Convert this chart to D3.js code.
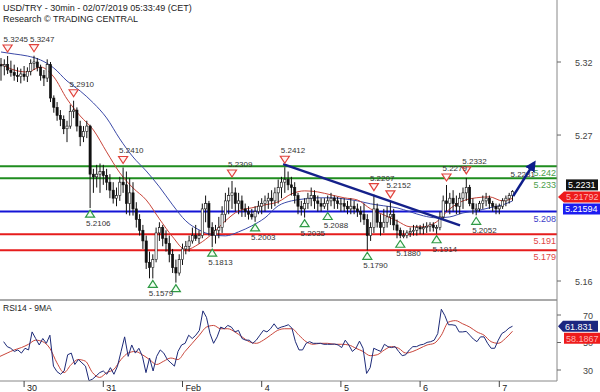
<!DOCTYPE html>
<html>
<head>
<meta charset="utf-8">
<script src="https://cdnjs.cloudflare.com/ajax/libs/d3/7.8.5/d3.min.js"></script>
<style>
  body { margin: 0; background: #fff; }
  svg { display: block; font-family: "Liberation Sans", Arial, sans-serif; }
</style>
</head>
<body>
<svg id="chart" width="600" height="392"></svg>
<script>
'use strict';

// hourly bars, USD/TRY
const FIRST_OPEN = 5.318;
const HI = [5.323,5.322,5.3245,5.321,5.318,5.316,5.315,5.317,5.316,5.322,5.3247,5.323,5.318,5.314,5.322,5.320,
  5.295,5.290,5.284,5.280,5.276,5.288,5.291,5.286,5.276,5.272,5.276,5.273,5.240,5.243,5.244,5.243,
  5.240,5.236,5.230,5.226,5.234,5.241,5.238,5.233,5.230,5.215,5.206,5.198,5.190,5.178,5.176,5.196,
  5.200,5.198,5.194,5.190,5.180,5.172,5.176,5.184,5.186,5.190,5.196,5.198,5.194,5.214,5.220,5.216,
  5.200,5.198,5.204,5.212,5.222,5.226,5.2309,5.226,5.222,5.220,5.214,5.212,5.210,5.212,5.216,5.218,
  5.220,5.222,5.224,5.226,5.232,5.234,5.2412,5.238,5.234,5.230,5.222,5.216,5.218,5.222,5.226,5.224,
  5.220,5.218,5.218,5.220,5.222,5.220,5.219,5.218,5.218,5.216,5.218,5.216,5.214,5.212,5.214,5.206,
  5.200,5.2207,5.214,5.206,5.210,5.212,5.2152,5.210,5.202,5.196,5.194,5.194,5.196,5.198,5.198,5.198,
  5.199,5.200,5.200,5.200,5.198,5.208,5.220,5.2279,5.222,5.224,5.220,5.222,5.226,5.2332,5.228,5.218,
  5.214,5.216,5.220,5.222,5.220,5.216,5.214,5.214,5.218,5.220,5.222,5.224];
const LO = [5.306,5.310,5.311,5.309,5.306,5.305,5.304,5.306,5.305,5.310,5.314,5.313,5.306,5.302,5.305,5.290,
  5.282,5.276,5.272,5.266,5.260,5.270,5.278,5.268,5.257,5.260,5.263,5.2106,5.222,5.226,5.222,5.228,
  5.224,5.218,5.214,5.212,5.216,5.222,5.206,5.205,5.205,5.196,5.190,5.180,5.165,5.158,5.1579,5.170,
  5.186,5.182,5.178,5.170,5.162,5.1548,5.160,5.168,5.176,5.178,5.184,5.186,5.184,5.188,5.200,5.190,
  5.1813,5.184,5.188,5.192,5.200,5.206,5.210,5.208,5.206,5.204,5.204,5.202,5.202,5.2003,5.206,5.206,
  5.208,5.210,5.210,5.212,5.214,5.218,5.222,5.224,5.220,5.214,5.206,5.205,5.2035,5.210,5.212,5.210,
  5.208,5.208,5.210,5.2088,5.212,5.210,5.210,5.208,5.208,5.206,5.206,5.206,5.204,5.200,5.198,5.1790,
  5.186,5.192,5.196,5.190,5.192,5.196,5.198,5.194,5.188,5.1880,5.188,5.188,5.189,5.190,5.190,5.191,
  5.191,5.192,5.193,5.193,5.1914,5.194,5.202,5.208,5.206,5.208,5.206,5.206,5.210,5.216,5.212,5.206,
  5.2052,5.208,5.210,5.212,5.210,5.208,5.206,5.206,5.210,5.212,5.214,5.216];
const CL = [5.317,5.318,5.314,5.312,5.310,5.309,5.311,5.309,5.313,5.319,5.320,5.316,5.310,5.308,5.318,5.293,
  5.286,5.280,5.277,5.270,5.272,5.283,5.284,5.272,5.264,5.268,5.272,5.236,5.234,5.236,5.238,5.235,
  5.230,5.224,5.218,5.220,5.230,5.228,5.214,5.222,5.210,5.202,5.194,5.186,5.170,5.166,5.172,5.192,
  5.196,5.188,5.184,5.176,5.166,5.162,5.172,5.180,5.182,5.186,5.190,5.188,5.190,5.210,5.214,5.196,
  5.190,5.194,5.196,5.206,5.216,5.220,5.222,5.214,5.216,5.210,5.208,5.206,5.204,5.208,5.212,5.214,
  5.216,5.218,5.216,5.222,5.226,5.230,5.232,5.228,5.226,5.220,5.212,5.210,5.214,5.218,5.220,5.216,
  5.214,5.212,5.214,5.216,5.218,5.216,5.214,5.214,5.212,5.210,5.212,5.210,5.208,5.206,5.202,5.190,
  5.196,5.210,5.200,5.196,5.200,5.204,5.206,5.198,5.194,5.190,5.190,5.192,5.193,5.194,5.196,5.195,
  5.196,5.197,5.198,5.196,5.196,5.204,5.216,5.214,5.218,5.214,5.212,5.218,5.222,5.226,5.214,5.210,
  5.210,5.214,5.216,5.218,5.214,5.212,5.210,5.212,5.216,5.218,5.220,5.2231];

// moving averages, sampled every 4 bars (last point = last bar)
const MA_FAST = [5.3185,5.3140,5.3125,5.3162,5.3088,5.2923,5.2796,5.2691,5.2527,5.2370,5.2257,5.2167,5.2025,5.1891,
  5.1794,5.1838,5.1913,5.2010,5.2085,5.2108,5.2130,5.2153,5.2212,5.2235,5.2227,5.2205,5.2183,5.2167,
  5.2100,5.2055,5.2010,5.1966,5.1966,5.2003,5.2100,5.2160,5.2183,5.2190,5.2160,5.21792];
const MA_SLOW = [5.3275,5.3260,5.3245,5.3215,5.3155,5.3058,5.2983,5.2893,5.2781,5.2624,5.2489,5.2384,5.2265,5.2130,
  5.2010,5.1943,5.1906,5.1898,5.1928,5.1973,5.2033,5.2123,5.2160,5.2175,5.2183,5.2183,5.2175,5.2160,
  5.2138,5.2123,5.2108,5.2078,5.2048,5.2033,5.2040,5.2070,5.2085,5.2108,5.2130,5.21594];

const RSI14 = [50.6,47.0,45.8,43.5,44.6,42.3,45.8,44.6,57.7,52.9,48.2,52.9,49.4,55.3,32.8,28.8,26.9,29.3,41.1,42.3,
  34.0,37.6,35.2,32.8,22.2,23.4,25.7,28.1,29.3,26.9,31.7,26.9,32.8,43.5,54.1,39.9,48.2,42.3,45.8,39.9,
  28.1,38.7,29.3,39.9,44.6,42.3,37.6,35.2,32.8,43.5,48.2,49.4,55.3,52.9,55.3,58.8,73.0,68.3,56.5,49.4,
  54.1,61.2,60.0,62.4,61.2,57.7,58.8,52.9,51.7,51.7,49.4,51.7,55.3,58.8,57.7,60.0,63.6,60.0,61.2,61.9,
  62.9,60.5,50.6,44.6,44.6,49.4,50.6,49.4,49.4,49.4,48.7,48.7,48.7,48.9,48.2,46.3,51.7,48.2,43.5,45.8,
  51.0,45.8,27.5,31.7,45.8,44.6,43.5,48.7,47.0,46.3,47.0,43.5,40.4,41.1,44.6,47.0,47.0,48.2,48.7,50.1,
  50.6,51.7,56.5,74.2,69.5,62.9,62.9,62.4,57.7,57.7,58.1,55.3,52.5,50.6,54.1,54.1,49.4,45.8,45.8,51.7,
  56.5,58.1,60.5,61.831];
const RSI_MA = [39.9,42.3,44.6,46.3,48.7,51.7,50.6,45.8,35.2,28.1,34.0,37.6,36.4,28.1,24.6,28.1,30.5,37.6,42.3,43.5,
  41.1,37.6,34.0,36.4,38.7,37.6,43.5,49.4,55.3,61.2,62.4,60.0,60.0,57.7,54.1,50.6,49.4,51.7,55.3,58.8,
  60.0,60.0,55.3,50.6,48.7,49.4,49.4,48.7,48.7,48.2,45.8,43.5,40.4,41.1,44.6,47.0,45.8,42.3,43.5,45.8,
  48.2,49.4,55.3,64.8,65.9,63.6,61.2,57.7,55.3,50.6,49.4,52.9,58.1867];

const LEVELS = [5.242, 5.233, 5.208, 5.191, 5.179];
const LEVEL_KIND = ['res', 'res', 'pivot', 'sup', 'sup'];

const HIGH_BARS = [2, 10, 22, 37, 70, 86, 113, 118, 135, 141];
const HIGH_VALS = [5.3245, 5.3247, 5.2910, 5.2410, 5.2309, 5.2412, 5.2207, 5.2152, 5.2279, 5.2332];
const LOW_BARS = [27, 46, 53, 64, 77, 92, 99, 111, 121, 132, 144];
const LOW_VALS = [5.2106, 5.1579, 5.1548, 5.1813, 5.2003, 5.2035, 5.2088, 5.1790, 5.1880, 5.1914, 5.2052];

const TREND = [[85.5, 5.2435], [139.1, 5.1977]];
const TARGET = [[155.2, 5.2195], [161.5, 5.2442]];

const DAY_BARS = [7, 31, 55, 79, 103, 127, 151];
const DAY_LABELS = ['30', '31', 'Feb', '4', '5', '6', '7'];
const PRICE_TICKS = [5.320, 5.2653, 5.156];
const RSI_TICKS = [70, 50, 30];

const PLOT_R = 557;
const MAIN_BOT = 300;
const RSI_BOT = 381;

let svg = d3.select('#chart');
let last = CL.length - 1;

let x = d3.scaleLinear().domain([0, 155]).range([1, 512.5]);
let y = d3.scaleLinear().domain([5.156, 5.320]).range([281, 62]);
let yR = d3.scaleLinear().domain([30, 70]).range([370, 315]);
let rsiX = d3.scaleLinear().domain([0, RSI14.length - 1]).range([x(0.8), x(155)]);
let rsiMaX = d3.scaleLinear().domain([0, RSI_MA.length - 1]).range([x(-0.3), x(155)]);
let maBars = d3.range(0, 153, 4).concat([last]);

let fmt4 = d3.format('.4f');
let levelColor = { res: '#1f8d1f', pivot: '#1414d6', sup: '#e61c1c' };
let levelText = { res: '#4b9e4b', pivot: '#3d3dc8', sup: '#e04646' };

let defs = svg.append('defs');
defs.append('clipPath').attr('id', 'clipMain')
  .append('rect').attr('x', 0).attr('y', 0).attr('width', PLOT_R).attr('height', MAIN_BOT);
defs.append('clipPath').attr('id', 'clipRsi')
  .append('rect').attr('x', 0).attr('y', MAIN_BOT).attr('width', PLOT_R).attr('height', RSI_BOT - MAIN_BOT);
defs.append('marker').attr('id', 'head')
  .attr('viewBox', '0 0 10 10').attr('refX', 7).attr('refY', 5)
  .attr('markerWidth', 11).attr('markerHeight', 11)
  .attr('markerUnits', 'userSpaceOnUse').attr('orient', 'auto')
  .append('path').attr('d', 'M0,0L10,5L0,10Z').attr('fill', '#0d1d8a');

// header
svg.append('text').attr('x', 3).attr('y', 11).attr('font-size', 9).attr('fill', '#222')
  .text('USD/TRY - 30min - 02/07/2019 05:33:49 (CET)');
svg.append('text').attr('x', 3).attr('y', 22).attr('font-size', 9).attr('fill', '#222')
  .text('Research \u00a9 TRADING CENTRAL');

let main = svg.append('g').attr('clip-path', 'url(#clipMain)');

// support / resistance
main.selectAll('.level').data(LEVELS).enter().append('line')
  .attr('x1', 0).attr('x2', PLOT_R)
  .attr('y1', d => y(d)).attr('y2', d => y(d))
  .attr('stroke', (d, i) => levelColor[LEVEL_KIND[i]])
  .attr('stroke-width', 2);
main.selectAll('.levelLabel').data(LEVELS).enter().append('text')
  .attr('x', PLOT_R - 1).attr('y', d => y(d) + 10)
  .attr('text-anchor', 'end').attr('font-size', 9)
  .attr('fill', (d, i) => levelText[LEVEL_KIND[i]])
  .text(d => d3.format('.3f')(d));

// moving averages
let maLine = d3.line()
  .x((d, i) => x(maBars[i]))
  .y(d => y(d))
  .curve(d3.curveMonotoneX);
main.append('path').datum(MA_SLOW).attr('d', maLine)
  .attr('fill', 'none').attr('stroke', '#3c4aa8').attr('stroke-width', 1);
main.append('path').datum(MA_FAST).attr('d', maLine)
  .attr('fill', 'none').attr('stroke', '#c9453a').attr('stroke-width', 1);

// candles
let bars = CL.map(function(c, i) {
  return { i: i, o: i ? CL[i - 1] : FIRST_OPEN, h: HI[i], l: LO[i], c: c };
});
let candle = main.selectAll('.bar').data(bars).enter().append('g');
candle.append('line')
  .attr('x1', d => x(d.i)).attr('x2', d => x(d.i))
  .attr('y1', d => y(d.h)).attr('y2', d => y(d.l))
  .attr('stroke', '#111').attr('stroke-width', 1);
candle.append('rect')
  .attr('x', d => x(d.i) - 1.1).attr('width', 2.2)
  .attr('y', d => y(Math.max(d.o, d.c)))
  .attr('height', d => Math.max(1, Math.abs(y(d.o) - y(d.c))))
  .attr('fill', d => d.c >= d.o ? '#fff' : '#111')
  .attr('stroke', '#111').attr('stroke-width', 0.6);

// trend line
main.append('line')
  .attr('x1', x(TREND[0][0])).attr('y1', y(TREND[0][1]))
  .attr('x2', x(TREND[1][0])).attr('y2', y(TREND[1][1]))
  .attr('stroke', '#15218a').attr('stroke-width', 2.5);

// swing highs / lows
let highs = HIGH_BARS.map((b, i) => ({ b: b, v: HIGH_VALS[i] }));
let lows = LOW_BARS.map((b, i) => ({ b: b, v: LOW_VALS[i] }));
main.selectAll('.hi').data(highs).enter().append('path')
  .attr('d', 'M-4.5,0L4.5,0L0,7Z')
  .attr('transform', d => 'translate(' + x(d.b) + ',' + (y(d.v) - 11) + ')')
  .attr('fill', '#fff3f3').attr('stroke', '#e0403a').attr('stroke-width', 1.2);
main.selectAll('.hiLabel').data(highs).enter().append('text')
  .attr('x', d => x(d.b) - 4).attr('y', d => y(d.v) - 14)
  .attr('font-size', 8).attr('fill', '#333')
  .text(d => fmt4(d.v));
main.selectAll('.lo').data(lows).enter().append('path')
  .attr('d', 'M-4.5,7L4.5,7L0,0Z')
  .attr('transform', d => 'translate(' + x(d.b) + ',' + (y(d.v) + 2) + ')')
  .attr('fill', '#f3fff3').attr('stroke', '#2f9a45').attr('stroke-width', 1.2);
// a low label that would run under the RSI pane is not shown
main.selectAll('.loLabel').data(lows.filter(d => y(d.v) + 18 < MAIN_BOT)).enter().append('text')
  .attr('x', d => x(d.b) - 4).attr('y', d => y(d.v) + 18)
  .attr('font-size', 8).attr('fill', '#333')
  .text(d => fmt4(d.v));

// last price tag and target arrow
main.append('text')
  .attr('x', x(last) - 2).attr('y', y(CL[last]) - 14)
  .attr('font-size', 8).attr('fill', '#333')
  .text(fmt4(CL[last]));
main.append('line')
  .attr('x1', x(TARGET[0][0])).attr('y1', y(TARGET[0][1]))
  .attr('x2', x(TARGET[1][0])).attr('y2', y(TARGET[1][1]))
  .attr('stroke', '#0d1d8a').attr('stroke-width', 2.5)
  .attr('marker-end', 'url(#head)');

// RSI panel
let rsiG = svg.append('g').attr('clip-path', 'url(#clipRsi)');
rsiG.append('path').datum(RSI_MA)
  .attr('d', d3.line().x((d, i) => rsiMaX(i)).y(d => yR(d)).curve(d3.curveMonotoneX))
  .attr('fill', 'none').attr('stroke', '#c9453a').attr('stroke-width', 1);
rsiG.append('path').datum(RSI14)
  .attr('d', d3.line().x((d, i) => rsiX(i)).y(d => yR(d)))
  .attr('fill', 'none').attr('stroke', '#1d2a78').attr('stroke-width', 1);
svg.append('text').attr('x', 3).attr('y', 311).attr('font-size', 8.5).attr('fill', '#222')
  .text('RSI14 - 9MA');

// frame
svg.append('line').attr('x1', 0).attr('x2', PLOT_R).attr('y1', MAIN_BOT).attr('y2', MAIN_BOT)
  .attr('stroke', '#555');
svg.append('line').attr('x1', 0).attr('x2', PLOT_R).attr('y1', RSI_BOT).attr('y2', RSI_BOT)
  .attr('stroke', '#888');
svg.append('line').attr('x1', PLOT_R).attr('x2', PLOT_R).attr('y1', 0).attr('y2', RSI_BOT)
  .attr('stroke', '#888');

// time axis
let days = svg.append('g');
days.selectAll('line').data(DAY_BARS).enter().append('line')
  .attr('x1', d => x(d)).attr('x2', d => x(d))
  .attr('y1', RSI_BOT).attr('y2', RSI_BOT + 6)
  .attr('stroke', '#444');
days.selectAll('text').data(DAY_BARS).enter().append('text')
  .attr('x', d => x(d) + 3).attr('y', RSI_BOT + 10)
  .attr('font-size', 9).attr('fill', '#222')
  .text((d, i) => DAY_LABELS[i]);

// value axes
let axisR = svg.append('g');
axisR.selectAll('.pt').data(PRICE_TICKS).enter().append('line')
  .attr('x1', PLOT_R).attr('x2', PLOT_R + 4)
  .attr('y1', d => y(d)).attr('y2', d => y(d)).attr('stroke', '#666');
axisR.selectAll('.pl').data(PRICE_TICKS).enter().append('text')
  .attr('x', 575).attr('y', d => y(d) + 3.5)
  .attr('font-size', 9).attr('fill', '#444')
  .text(d => d3.format('.2f')(d));
axisR.selectAll('.rt').data(RSI_TICKS).enter().append('line')
  .attr('x1', PLOT_R).attr('x2', PLOT_R + 4)
  .attr('y1', d => yR(d)).attr('y2', d => yR(d)).attr('stroke', '#666');
axisR.selectAll('.rl').data(RSI_TICKS).enter().append('text')
  .attr('x', 583).attr('y', d => yR(d) + 3.5)
  .attr('font-size', 9).attr('fill', '#444')
  .text(d => d);

// value boxes, pushed apart so they do not overlap
function spread(list, gap, downOnly) {
  list.sort((a, b) => a.cy - b.cy);
  for (let k = 0; k < 30; k++) {
    for (let i = 1; i < list.length; i++) {
      let d = list[i].cy - list[i - 1].cy;
      if (d < gap) {
        if (downOnly) {
          list[i].cy += gap - d;
        } else {
          list[i - 1].cy -= (gap - d) / 2;
          list[i].cy += (gap - d) / 2;
        }
      }
    }
  }
  return list;
}

function drawBoxes(list) {
  list.forEach(function(b) {
    let top = b.cy - 5.5, bot = b.cy + 5.5;
    let p = b.arrow
      ? 'M' + (PLOT_R + 1) + ',' + b.cy + 'L' + b.x0 + ',' + top + 'L' + b.x1 + ',' + top +
        'L' + b.x1 + ',' + bot + 'L' + b.x0 + ',' + bot + 'Z'
      : 'M' + b.x0 + ',' + top + 'L' + b.x1 + ',' + top + 'L' + b.x1 + ',' + bot + 'L' + b.x0 + ',' + bot + 'Z';
    svg.append('path').attr('d', p).attr('fill', b.fill);
    svg.append('text').attr('x', b.x0 + 2).attr('y', b.cy + 3.5)
      .attr('font-size', 9).attr('fill', b.color).text(b.text);
  });
}

drawBoxes(spread([
  { cy: y(CL[last]), text: fmt4(CL[last]), fill: '#111', color: '#fff', x0: 566, x1: 598, arrow: false },
  { cy: y(MA_FAST[MA_FAST.length - 1]), text: d3.format('.5f')(MA_FAST[MA_FAST.length - 1]),
    fill: '#ee1b1b', color: '#ffb4b4', x0: 564, x1: 600, arrow: true },
  { cy: y(MA_SLOW[MA_SLOW.length - 1]), text: d3.format('.5f')(MA_SLOW[MA_SLOW.length - 1]),
    fill: '#1c1cf0', color: '#fff', x0: 563, x1: 600, arrow: false }
], 12, false));

drawBoxes(spread([
  { cy: yR(RSI14[RSI14.length - 1]), text: d3.format('.3f')(RSI14[RSI14.length - 1]),
    fill: '#1c2680', color: '#fff', x0: 563, x1: 598, arrow: true },
  { cy: yR(RSI_MA[RSI_MA.length - 1]), text: d3.format('.4f')(RSI_MA[RSI_MA.length - 1]),
    fill: '#ee1b1b', color: '#ffb4b4', x0: 564, x1: 600, arrow: false }
], 12, true));
</script>
</body>
</html>
